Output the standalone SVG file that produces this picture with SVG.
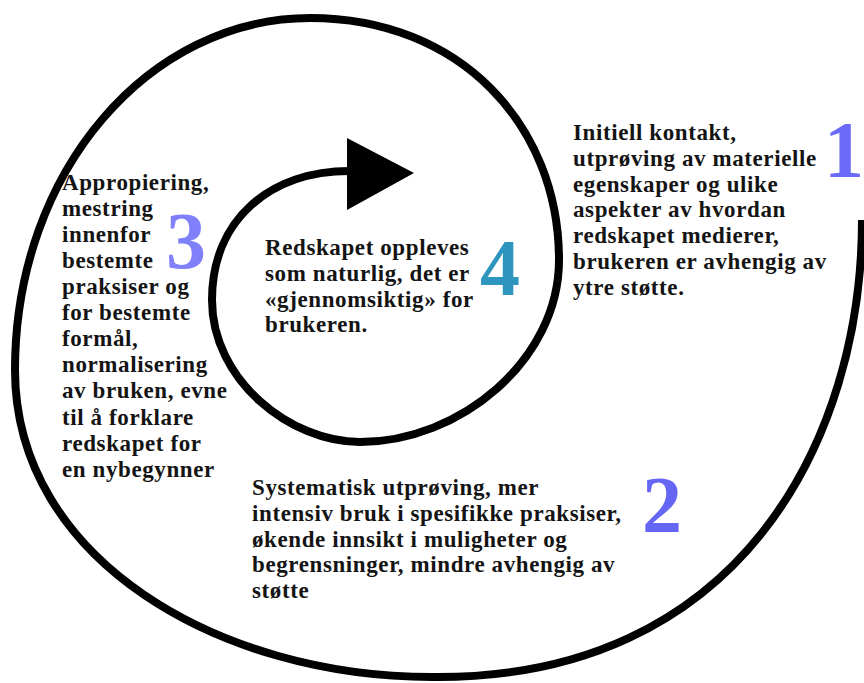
<svg xmlns="http://www.w3.org/2000/svg" width="864" height="683" viewBox="0 0 864 683">
<style>
.t{font-family:"Liberation Serif","Times New Roman",serif;font-weight:bold;font-size:23px;letter-spacing:0.6px;fill:#141414}
.n{font-family:"Liberation Serif","Times New Roman",serif;font-weight:bold;font-size:80px;text-anchor:middle}
.sp{fill:none;stroke:#000;stroke-width:8;stroke-linecap:butt}
</style>
<rect width="864" height="683" fill="#fff"/>
<g id="connectors">
<path class="sp" d="M862,220 C862,440 740,680 432,677 C220,677 15,560 15,370 C15,170 150,18 310,18 C460,18 559,125 559,260 C559,360 460,442 360,442 C290,442 212,380 212,300 C212,220 270,170 352,171"/>
<polygon points="347,138 347,210 414,173" fill="#000"/>
</g>
<g id="stage1">
<text class="t"><tspan x="573" y="140">Initiell kontakt,</tspan><tspan x="573" y="166">utprøving av materielle</tspan><tspan x="573" y="192">egenskaper og ulike</tspan><tspan x="573" y="217">aspekter av hvordan</tspan><tspan x="573" y="243">redskapet medierer,</tspan><tspan x="573" y="269">brukeren er avhengig av</tspan><tspan x="573" y="295">ytre støtte.</tspan></text>
<text class="n" x="844" y="177" fill="#6a6af8">1</text>
</g>
<g id="stage2">
<text class="t"><tspan x="252" y="495">Systematisk utprøving, mer</tspan><tspan x="252" y="521">intensiv bruk i spesifikke praksiser,</tspan><tspan x="252" y="547">økende innsikt i muligheter og</tspan><tspan x="252" y="572">begrensninger, mindre avhengig av</tspan><tspan x="252" y="598">støtte</tspan></text>
<text class="n" x="662" y="532" fill="#6666f5">2</text>
</g>
<g id="stage3">
<text class="t"><tspan x="62" y="190">Appropiering,</tspan><tspan x="62" y="216">mestring</tspan><tspan x="62" y="242">innenfor</tspan><tspan x="62" y="268">bestemte</tspan><tspan x="62" y="294">praksiser og</tspan><tspan x="62" y="320">for bestemte</tspan><tspan x="62" y="346">formål,</tspan><tspan x="62" y="372">normalisering</tspan><tspan x="62" y="398">av bruken, evne</tspan><tspan x="62" y="425">til å forklare</tspan><tspan x="62" y="451">redskapet for</tspan><tspan x="62" y="477">en nybegynner</tspan></text>
<text class="n" x="186" y="268" fill="#8080fa">3</text>
</g>
<g id="stage4">
<text class="t"><tspan x="265" y="255">Redskapet oppleves</tspan><tspan x="265" y="281">som naturlig, det er</tspan><tspan x="265" y="307">«gjennomsiktig» for</tspan><tspan x="265" y="332">brukeren.</tspan></text>
<text class="n" x="500" y="295" fill="#2e95be">4</text>
</g>
</svg>
